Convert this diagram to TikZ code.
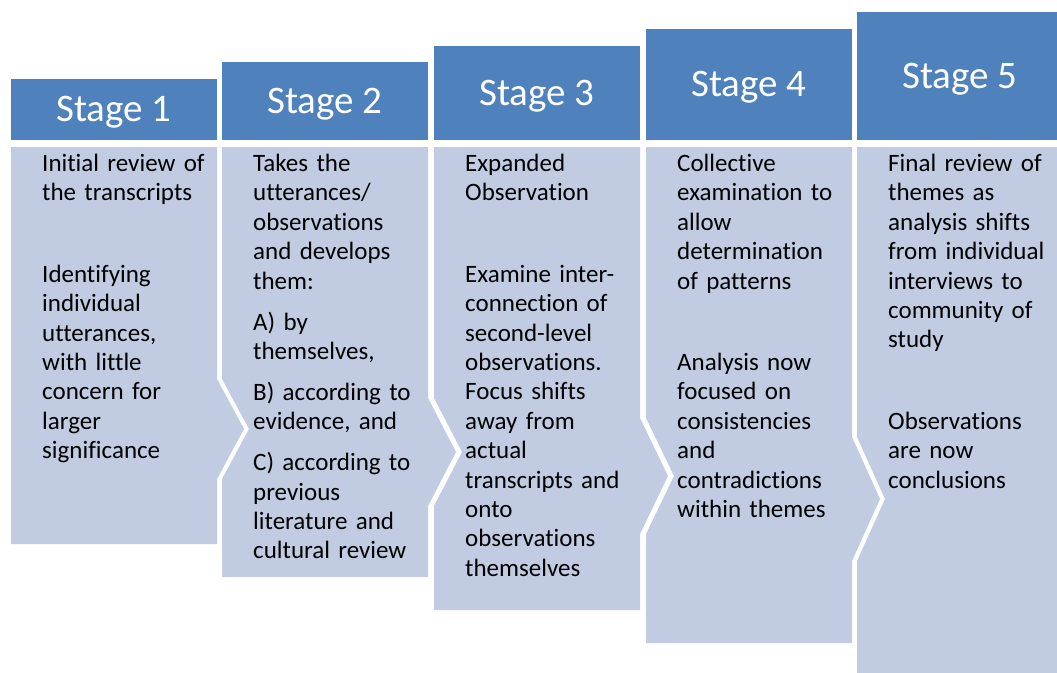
\documentclass[tikz,border=0pt]{standalone}
\usepackage{fontspec}
\setmainfont{Carlito}[Ligatures=NoCommon]
\definecolor{headblue}{RGB}{79,129,189}
\definecolor{bodyblue}{RGB}{193,203,225}
\begin{document}
\begin{tikzpicture}[x=1pt, y=-1pt,
    head/.style={fill=headblue, text=white, inner sep=0pt, minimum width=206pt,
      text height=30pt, text depth=6pt, font=\fontsize{39}{44}\selectfont},
    body/.style={fill=bodyblue},
    bodytext/.style={anchor=base west, align=left, inner sep=0pt, text width=200pt,
      font=\fontsize{25}{29.4}\selectfont}]
\useasboundingbox (0,0) rectangle (1057,672);
% stage headers, rising to the right
\node[head, minimum height=61pt] (s1) at (114,109.5) {Stage 1};
\node[head, minimum height=78pt] (s2) at (325,101) {Stage 2};
\node[head, minimum height=94pt] (s3) at (537,93) {Stage 3};
\node[head, minimum height=111pt] (s4) at (749,84.5) {Stage 4};
\node[head, minimum height=128pt] (s5) at (960,76) {Stage 5};
% bodies, each pointing into the next one
\fill[body] (11,147) -- (217,147) -- (217,379) -- (244,429) -- (217,479) -- (217,544) -- (11,544) -- cycle;
\fill[body] (222,147) -- (428,147) -- (428,398) -- (456,452) -- (428,506) -- (428,577) -- (222,577) -- (222,479) -- (249,429) -- (222,379) -- cycle;
\fill[body] (434,147) -- (640,147) -- (640,418) -- (668,476) -- (640,534) -- (640,610) -- (434,610) -- (434,506) -- (462,452) -- (434,398) -- cycle;
\fill[body] (646,147) -- (852,147) -- (852,437) -- (880,499) -- (852,561) -- (852,643) -- (646,643) -- (646,534) -- (674,476) -- (646,418) -- cycle;
\fill[body] (857,147) -- (1063,147) -- (1063,676) -- (857,676) -- (857,561) -- (885,499) -- (857,437) -- cycle;
% texts
\node[bodytext] (t1) at (42,171.5) {Initial review of\\ the transcripts\\[52pt]
  Identifying\\ individual\\ utterances,\\ with little\\ concern for\\ larger\\ significance};
\node[bodytext] (t2) at (253,171.5) {Takes the\\ utterances/\\ observations\\ and develops\\ them:\\[11.5pt]
  A) by\\ themselves,\\[11.5pt] B) according to\\ evidence, and\\[11.5pt]
  C) according to\\ previous\\ literature and\\ cultural review};
\node[bodytext] (t3) at (465,171.5) {Expanded\\ Observation\\[52pt]
  Examine inter-\\ connection of\\ second-level\\ observations.\\ Focus shifts\\ away from\\ actual\\
  transcripts and\\ onto\\ observations\\ themselves};
\node[bodytext] (t4) at (677,171.5) {Collective\\ examination to\\ allow\\ determination\\ of patterns\\[52pt]
  Analysis now\\ focused on\\ consistencies\\ and\\ contradictions\\ within themes};
\node[bodytext] (t5) at (888,171.5) {Final review of\\ themes as\\ analysis shifts\\ from individual\\ interviews to\\ community of\\ study\\[52pt]
  Observations\\ are now\\ conclusions};
\end{tikzpicture}
\end{document}
